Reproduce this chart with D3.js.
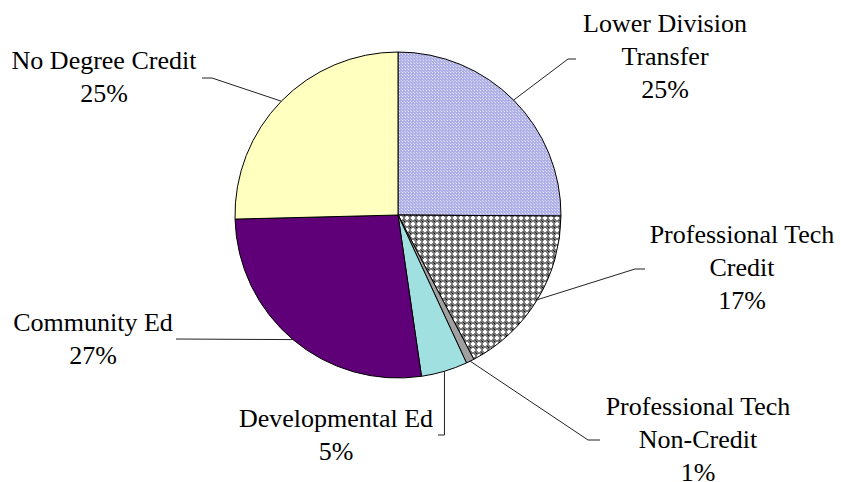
<!DOCTYPE html>
<html>
<head>
<meta charset="utf-8">
<script src="https://cdn.jsdelivr.net/npm/d3@7"></script>
<style>
  html, body { margin: 0; padding: 0; background: #fff; }
  svg { display: block; }
</style>
</head>
<body>
<svg id="chart" width="841" height="482"></svg>
<script>
// ---- data ----
const categories = ["Lower Division Transfer", "Professional Tech Credit", "Professional Tech Non-Credit", "Developmental Ed", "Community Ed", "No Degree Credit"];
const values = [25.1, 17.2, 0.8, 4.6, 26.9, 25.4];
const labelLines = [["Lower Division", "Transfer"], ["Professional Tech", "Credit"], ["Professional Tech", "Non-Credit"], ["Developmental Ed"], ["Community Ed"], ["No Degree Credit"]];

// ---- layout / style ----
const W = 841, H = 482;
const cx = 398, cy = 215, R = 163;
const fills = ["url(#patLDT)", "url(#patPTC)", "#a0a0a0", "#a0e0e0", "#600078", "#ffffc0"];
// label anchor (text center x, first baseline y) and leader elbow points
const labelLayout = [
  { x: 665, y: 32, elbow: [[568, 59], [576, 59]] },
  { x: 742, y: 243, elbow: [[635, 269], [645, 269]] },
  { x: 698, y: 415, elbow: [[588, 440], [600, 440]] },
  { x: 336, y: 427, elbow: [["v", 435], [438, 435]] },
  { x: 93, y: 331, elbow: [[176, 339]] },
  { x: 104, y: 69, elbow: [[212, 78], [202, 78]] }
];
const lineHeight = 33;
const fontSize = 26;
const fontFamily = "'Liberation Serif', 'Times New Roman', 'DejaVu Serif', serif";

const svg = d3.select("#chart");
const defs = svg.append("defs");

// lavender fine checker
const p1 = defs.append("pattern").attr("id", "patLDT").attr("patternUnits", "userSpaceOnUse")
  .attr("width", 3).attr("height", 3);
p1.append("rect").attr("width", 3).attr("height", 3).attr("fill", "#b0b0e8");
p1.append("rect").attr("x", 1).attr("y", 1).attr("width", 1).attr("height", 1).attr("fill", "#e4e4f0");
p1.append("rect").attr("x", 0).attr("y", 0).attr("width", 1).attr("height", 1).attr("fill", "#d4d4f4");

// grey diamond checker
const p2 = defs.append("pattern").attr("id", "patPTC").attr("patternUnits", "userSpaceOnUse")
  .attr("width", 6).attr("height", 6);
p2.append("rect").attr("width", 6).attr("height", 6).attr("fill", "#7a7a7a");
p2.append("rect").attr("x", 2).attr("y", 1).attr("width", 2).attr("height", 4).attr("fill", "#ffffff");
p2.append("rect").attr("x", 1).attr("y", 2).attr("width", 4).attr("height", 2).attr("fill", "#ffffff");
p2.append("rect").attr("x", 0).attr("y", 0).attr("width", 1).attr("height", 1).attr("fill", "#000000");
p2.append("rect").attr("x", 5).attr("y", 5).attr("width", 1).attr("height", 1).attr("fill", "#333333");

const data = categories.map((c, i) => ({ name: c, value: values[i], i }));
const pie = d3.pie().value(d => d.value).sort(null).startAngle(0).endAngle(2 * Math.PI);
const arcs = pie(data);
const arc = d3.arc().innerRadius(0).outerRadius(R);

const g = svg.append("g").attr("transform", `translate(${cx},${cy})`);
g.selectAll("path.slice").data(arcs).join("path")
  .attr("class", "slice")
  .attr("d", arc)
  .attr("fill", d => fills[d.data.i])
  .attr("stroke", "#000")
  .attr("stroke-width", 1)
  .attr("stroke-linejoin", "round");

const total = d3.sum(values);
const fmt = v => Math.round(v / total * 100) + "%";

// leader lines
arcs.forEach((a, k) => {
  const mid = (a.startAngle + a.endAngle) / 2;
  const px = cx + R * Math.sin(mid), py = cy - R * Math.cos(mid);
  const pts = [[px, py]];
  labelLayout[k].elbow.forEach(p => pts.push([p[0] === "v" ? px : p[0], p[1]]));
  svg.append("path")
    .attr("d", d3.line()(pts))
    .attr("fill", "none")
    .attr("stroke", "#222")
    .attr("stroke-width", 1);
});

// labels
arcs.forEach((a, k) => {
  const L = labelLayout[k];
  const lines = labelLines[k].concat([fmt(a.data.value)]);
  const t = svg.append("text")
    .attr("text-anchor", "middle")
    .attr("font-family", fontFamily)
    .attr("font-size", fontSize)
    .attr("fill", "#000");
  lines.forEach((s, j) => {
    t.append("tspan").attr("x", L.x).attr("y", L.y + j * lineHeight).text(s);
  });
});
</script>
</body>
</html>
